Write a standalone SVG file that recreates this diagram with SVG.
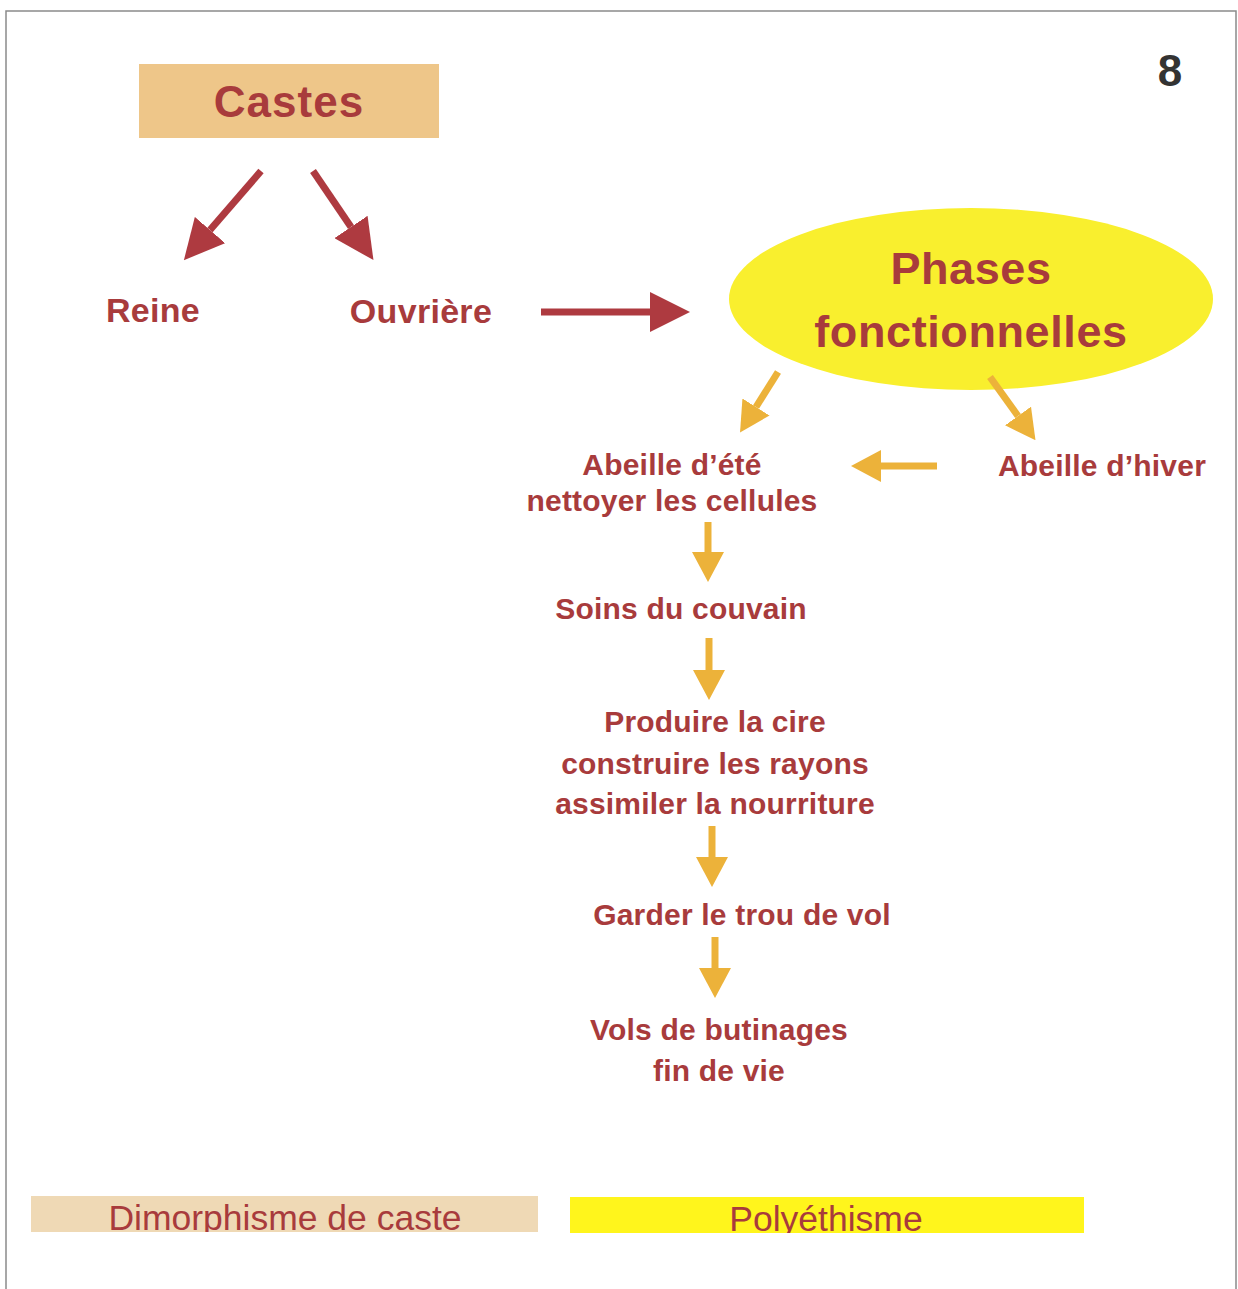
<svg xmlns="http://www.w3.org/2000/svg" width="1238" height="1289" viewBox="0 0 1238 1289">
<style>
.t{font-family:"Liberation Sans",Arial,sans-serif;font-weight:bold;fill:#A83B3C;text-anchor:middle}
.s{font-size:30px;letter-spacing:0.2px}
.leg{font-family:"Liberation Sans",Arial,sans-serif;font-size:35.5px;fill:#A83B3C;text-anchor:middle}
.red{stroke:#AE3A40;stroke-width:7;fill:none;marker-end:url(#hr)}
.or{stroke:#ECB23A;stroke-width:7;fill:none;marker-end:url(#ho)}
</style>
<defs>
<marker id="hr" viewBox="0 0 40 40" refX="0" refY="20" markerWidth="40" markerHeight="40" markerUnits="userSpaceOnUse" orient="auto"><path d="M0,0 L40,20 L0,40 z" fill="#AE3A40"/></marker>
<marker id="ho" viewBox="0 0 30 32" refX="0" refY="16" markerWidth="30" markerHeight="32" markerUnits="userSpaceOnUse" orient="auto"><path d="M0,0 L30,16 L0,32 z" fill="#ECB23A"/></marker>
<clipPath id="c1"><rect x="31" y="1196" width="507" height="36"/></clipPath>
<clipPath id="c2"><rect x="570" y="1197" width="514" height="36"/></clipPath>
</defs>
<rect x="0" y="0" width="1238" height="1289" fill="#ffffff"/>
<rect x="6" y="11" width="1230" height="1300" fill="none" stroke="#8a8a8a" stroke-width="1.5"/>
<text x="1170" y="86" font-family="Liberation Sans,Arial,sans-serif" font-weight="bold" font-size="44" fill="#333333" text-anchor="middle">8</text>

<g id="castes"><rect x="139" y="64" width="300" height="74" fill="#EEC689"/><text class="t" x="289" y="117" font-size="44" letter-spacing="1">Castes</text></g>
<g id="reine"><text class="t" x="153" y="322" font-size="34" letter-spacing="0.3">Reine</text></g>
<g id="ouvriere"><text class="t" x="421" y="323" font-size="34" letter-spacing="0.3">Ouvrière</text></g>
<g id="phases"><ellipse cx="971" cy="299" rx="242" ry="91" fill="#F9EF2E"/><text class="t" x="971" y="284" font-size="45" letter-spacing="0.6">Phases</text><text class="t" x="971" y="347" font-size="45" letter-spacing="0.6">fonctionnelles</text></g>
<g id="ete"><text class="t s" x="672" y="475">Abeille d’été</text><text class="t s" x="672" y="511">nettoyer les cellules</text></g>
<g id="hiver"><text class="t s" x="1102" y="476">Abeille d’hiver</text></g>
<g id="soins"><text class="t s" x="681" y="619">Soins du couvain</text></g>
<g id="cire"><text class="t s" x="715" y="732">Produire la cire</text><text class="t s" x="715" y="774">construire les rayons</text><text class="t s" x="715" y="814">assimiler la nourriture</text></g>
<g id="garder"><text class="t s" x="742" y="925">Garder le trou de vol</text></g>
<g id="vols"><text class="t s" x="719" y="1040">Vols de butinages</text><text class="t s" x="719" y="1081">fin de vie</text></g>

<g id="legend-dimorphisme"><rect x="31" y="1196" width="507" height="36" fill="#EFD9B5"/><text class="leg" x="285" y="1230" clip-path="url(#c1)">Dimorphisme de caste</text></g>
<g id="legend-polyethisme"><rect x="570" y="1197" width="514" height="36" fill="#FFF51C"/><text class="leg" x="826" y="1231" clip-path="url(#c2)">Polyéthisme</text></g>

<g id="connectors">
<line class="red" x1="261" y1="171" x2="210" y2="230"/>
<line class="red" x1="313" y1="171" x2="351" y2="227"/>
<line class="red" x1="541" y1="312" x2="650" y2="312"/>
<line class="or" x1="778" y1="372" x2="756" y2="407"/>
<line class="or" x1="990" y1="377" x2="1018" y2="416"/>
<line class="or" x1="937" y1="466" x2="881" y2="466"/>
<line class="or" x1="708" y1="522" x2="708" y2="552"/>
<line class="or" x1="709" y1="638" x2="709" y2="670"/>
<line class="or" x1="712" y1="826" x2="712" y2="857"/>
<line class="or" x1="715" y1="937" x2="715" y2="968"/>
</g>
</svg>
